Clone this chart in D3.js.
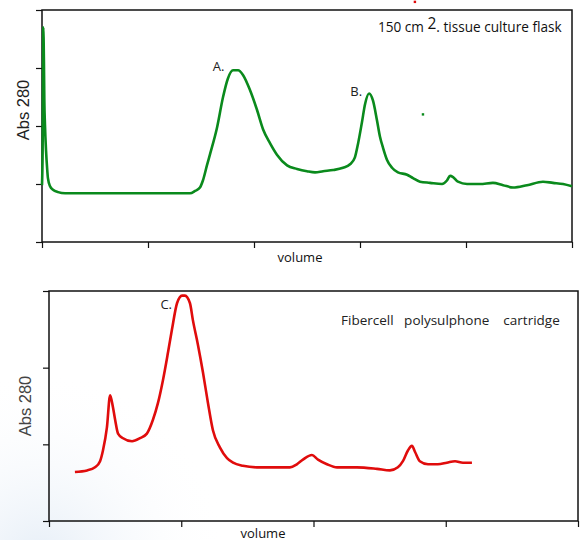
<!DOCTYPE html>
<html>
<head>
	<title>Abs 280 elution profiles</title>
	<script src="https://d3js.org/d3.v7.min.js" charset="utf-8"></script>
	<style>
		body { margin: 0; background: #fff; }
	</style>
</head>
<body>
	<script>

		// top trace: 150 cm2 flask (volume in mL, absorbance)
		var flaskVol = [0, 0.3, 0.5, 0.6, 0.9, 1.1, 1.4, 1.9, 2.4, 2.8, 3.8, 5.2, 7.6, 10.9, 17.9, 27.4, 41.5, 55.7, 69.8,
			72.2, 74.5, 75.9, 77.8, 79.3, 82.6, 85.4, 87.7, 90.1, 92.5, 94.8, 98.1, 101.4, 104.3, 107.6, 110.9, 115.6,
			120.3, 125, 128.8, 132.6, 137.3, 142, 145.3, 147.6, 149.1, 150.9, 152.4, 154.3, 156.1, 158, 159.4, 160.9,
			162.7, 165.1, 167.9, 172.2, 175, 178.3, 183, 188.7, 191, 192.5, 193.9, 196.2, 200.5, 206.6, 212.7, 217.5,
			222.2, 228.8, 236.3, 241, 245.8, 250];
		var flaskAbs = [0.49, 0.79, 1.40, 1.85, 1.57, 1.22, 1.01, 0.79, 0.64, 0.55, 0.48, 0.45, 0.43, 0.42, 0.42, 0.42, 0.42, 0.42, 0.42,
			0.44, 0.47, 0.53, 0.66, 0.76, 0.99, 1.25, 1.41, 1.48, 1.48, 1.44, 1.31, 1.14, 0.97, 0.85, 0.75, 0.66,
			0.63, 0.61, 0.60, 0.61, 0.62, 0.64, 0.67, 0.73, 0.85, 1.03, 1.19, 1.28, 1.22, 1.05, 0.91, 0.81,
			0.71, 0.64, 0.60, 0.58, 0.55, 0.52, 0.51, 0.50, 0.53, 0.57, 0.56, 0.52, 0.50, 0.50, 0.51, 0.49,
			0.47, 0.49, 0.52, 0.51, 0.50, 0.48];
		var flaskStrayVol = [179.7, 175.9];
		var flaskStrayAbs = [1.10, 2.07];
		var flaskStrayColor = ["#0a8a1c", "#e00c0c"];

		// bottom trace: Fibercell cartridge
		var cartVol = [9.8, 14.4, 17.4, 19.3, 20.4, 21.9, 23.1, 24.2, 25, 26.1, 28, 31.4, 34.4, 37, 39.3, 41.2, 43.1, 45,
			46.5, 48.4, 50.3, 51.4, 53.3, 54.4, 56.3, 58.2, 60.1, 62, 64.6, 67.3, 69.6, 73.3, 78.6, 84.7, 91.1, 93.7,
			96, 99.4, 101.7, 105.1, 108.9, 116.4, 124, 128.9, 131.9, 133.8, 135.7, 137.2, 138.4, 140.2, 143.3, 147,
			150.4, 153.5, 156.5, 159.9];
		var cartAbs = [0.32, 0.33, 0.35, 0.39, 0.46, 0.61, 0.82, 0.74, 0.66, 0.57, 0.54, 0.52, 0.54, 0.57, 0.66, 0.77, 0.92, 1.10,
			1.25, 1.42, 1.47, 1.47, 1.42, 1.31, 1.15, 0.97, 0.77, 0.59, 0.48, 0.41, 0.38, 0.36, 0.35, 0.35, 0.35, 0.37,
			0.40, 0.43, 0.40, 0.37, 0.35, 0.35, 0.34, 0.33, 0.35, 0.39, 0.46, 0.49, 0.45, 0.39, 0.37, 0.37,
			0.38, 0.39, 0.38, 0.38];

		var flaskXTicks = [0, 50, 100, 150, 200, 250];
		var flaskYTicks = [0, 0.5, 1, 1.5, 2];
		var cartXTicks = [0, 50, 100, 150, 200];
		var cartYTicks = [0, 0.5, 1, 1.5];

		var flaskPeaks = [{label: "A.", vol: 86, abs: 1.47}, {label: "B.", vol: 151, abs: 1.26}];
		var cartPeaks = [{label: "C.", vol: 46.5, abs: 1.38}];

		var width = 582;
		var height = 540;
		var labelFont = "Open Sans, Noto Sans, sans-serif";

		var svg = d3.select("body").append("svg")
			.attr("width", width)
			.attr("height", height);

		// faint bluish slide background, bottom left
		var defs = svg.append("defs");
		var grad = defs.append("radialGradient").attr("id", "bg")
			.attr("gradientUnits", "userSpaceOnUse")
			.attr("cx", 40).attr("cy", 560).attr("r", 190);
		grad.append("stop").attr("offset", "0").attr("stop-color", "#e6eef7");
		grad.append("stop").attr("offset", "1").attr("stop-color", "#ffffff").attr("stop-opacity", 0);
		svg.append("rect").attr("width", width).attr("height", height).attr("fill", "url(#bg)");

		function styleAxis(sel) {
			sel.select(".domain").remove();
			sel.selectAll(".tick line").attr("stroke", "#111").attr("stroke-width", 1.2);
		}

		function drawPanel(opt) {
			var x = d3.scaleLinear().domain(opt.xDomain).range([opt.left, opt.right]);
			var y = d3.scaleLinear().domain(opt.yDomain).range([opt.bottom, opt.top]);
			var g = svg.append("g");

			g.append("g")
				.attr("transform", "translate(0," + opt.bottom + ")")
				.call(d3.axisBottom(x).tickValues(opt.xTicks).tickSize(6).tickFormat(""))
				.call(styleAxis);
			g.append("g")
				.attr("transform", "translate(" + opt.left + ",0)")
				.call(d3.axisLeft(y).tickValues(opt.yTicks).tickSize(6).tickFormat(""))
				.call(styleAxis);

			g.append("rect")
				.attr("x", opt.left).attr("y", opt.top)
				.attr("width", opt.right - opt.left).attr("height", opt.bottom - opt.top)
				.attr("fill", "none").attr("stroke", "#111").attr("stroke-width", 1.5);

			var line = d3.line()
				.x(function(d, i) { return x(opt.vol[i]); })
				.y(function(d) { return y(d); })
				.curve(d3.curveMonotoneX);

			g.append("path")
				.datum(opt.abs)
				.attr("d", line)
				.attr("fill", "none")
				.attr("stroke", opt.color)
				.attr("stroke-width", 2.6)
				.attr("stroke-linejoin", "round");

			g.selectAll(".peak").data(opt.peaks).enter().append("text")
				.attr("x", function(d) { return x(d.vol); })
				.attr("y", function(d) { return y(d.abs); })
				.attr("text-anchor", "end")
				.style("font-family", labelFont)
				.style("font-size", "13px")
				.attr("fill", "#222")
				.text(function(d) { return d.label; });

			g.append("text")
				.attr("x", opt.xLabelX).attr("y", opt.xLabelY)
				.attr("text-anchor", "middle")
				.style("font-family", labelFont)
				.style("font-size", "13px")
				.attr("fill", "#111")
				.text("volume");

			g.append("text")
				.attr("transform", "translate(" + opt.yLabelX + "," + opt.yLabelY + ") rotate(-90)")
				.attr("text-anchor", "middle")
				.style("font-family", "Liberation Sans, Arial, sans-serif")
				.style("font-size", "16.5px")
				.attr("fill", opt.yLabelColor)
				.text("Abs 280");

			return {x: x, y: y, g: g};
		}

		var flaskPanel = drawPanel({
			left: 42, right: 572, top: 10, bottom: 242,
			xDomain: [0, 250], yDomain: [0, 2],
			xTicks: flaskXTicks, yTicks: flaskYTicks,
			vol: flaskVol, abs: flaskAbs, color: "#0a8a1c",
			peaks: flaskPeaks, xLabelX: 300, xLabelY: 262,
			yLabelX: 29, yLabelY: 110, yLabelColor: "#222"
		});

		flaskPanel.g.selectAll(".stray").data(flaskStrayAbs).enter().append("rect")
			.attr("x", function(d, i) { return flaskPanel.x(flaskStrayVol[i]) - 1.2; })
			.attr("y", function(d) { return flaskPanel.y(d) - 1.2; })
			.attr("width", 2.4).attr("height", 2.4)
			.attr("fill", function(d, i) { return flaskStrayColor[i]; });

		var title1 = flaskPanel.g.append("text")
			.attr("x", 378).attr("y", 32)
			.style("font-family", labelFont)
			.style("font-size", "13.6px")
			.attr("fill", "#111");
		title1.append("tspan").text("150 cm ");
		title1.append("tspan").attr("dy", -3).style("font-size", "15.5px").text("2");
		title1.append("tspan").attr("dy", 3).text(". tissue culture flask");

		var cartPanel = drawPanel({
			left: 49, right: 578, top: 291, bottom: 521,
			xDomain: [0, 200], yDomain: [0, 1.5],
			xTicks: cartXTicks, yTicks: cartYTicks,
			vol: cartVol, abs: cartAbs, color: "#e00c0c",
			peaks: cartPeaks, xLabelX: 263, xLabelY: 537.5,
			yLabelX: 31, yLabelY: 406, yLabelColor: "#444"
		});

		cartPanel.g.append("text")
			.attr("x", 341).attr("y", 325)
			.style("font-family", labelFont)
			.style("font-size", "13.5px")
			.style("white-space", "pre")
			.attr("fill", "#222")
			.text("Fibercell   polysulphone    cartridge");

	</script>
</body>
</html>
